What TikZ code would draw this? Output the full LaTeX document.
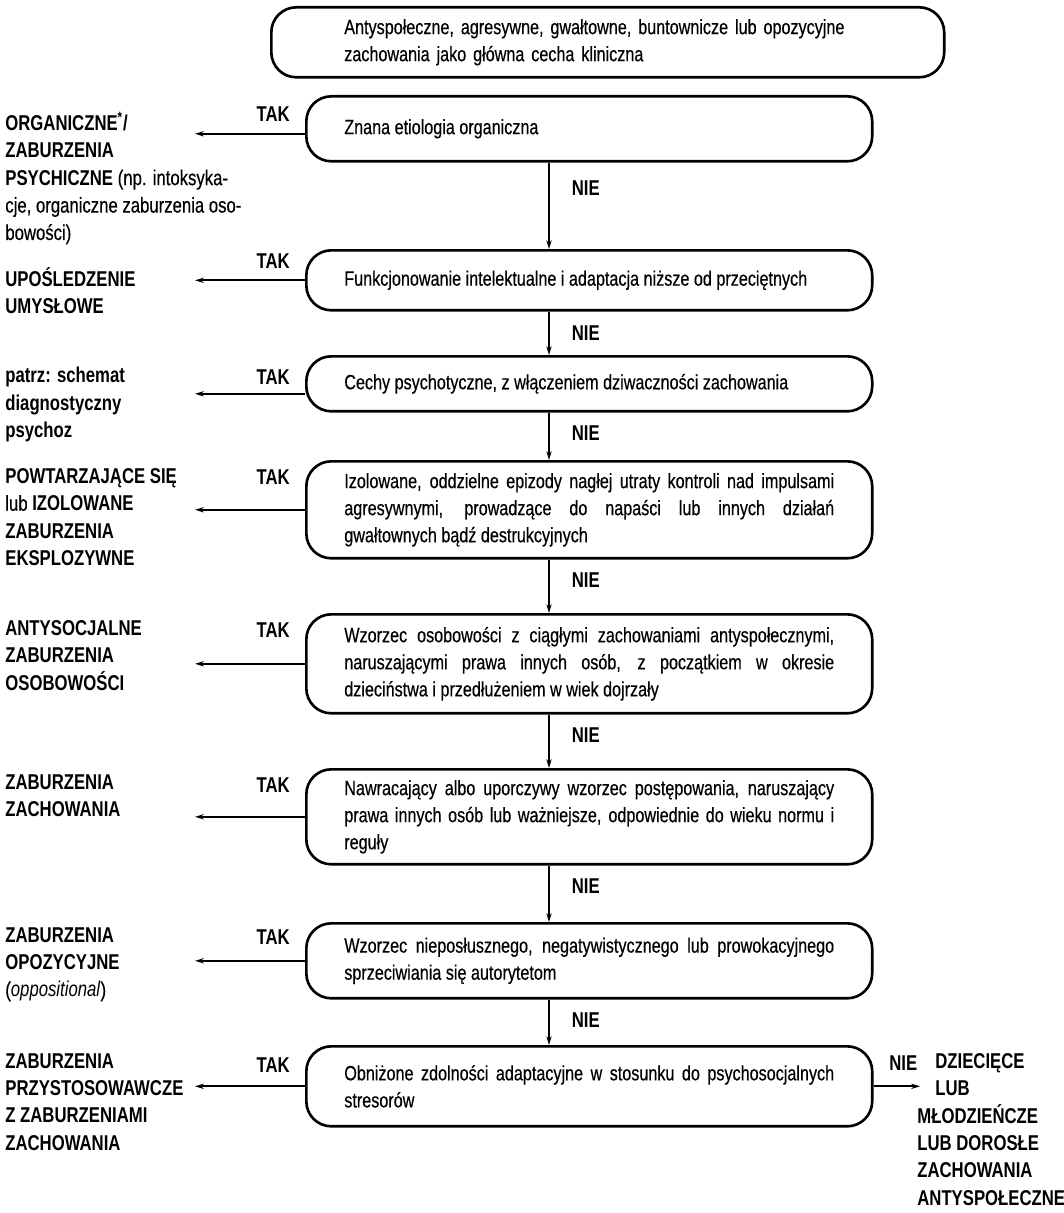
\documentclass[tikz,border=0pt]{standalone}
\usepackage{fontspec}
\setmainfont{Liberation Sans}[FakeStretch=0.78, UprightFeatures={FakeBold=0.4}]
\usetikzlibrary{arrows.meta}

\begin{document}
\begin{tikzpicture}[x=0.02cm, y=-0.02cm]
    \tikzset{question/.style={draw, line width=1.5pt, rounded corners=0.5cm, anchor=north west,
            text width=9.8cm, inner xsep=0.76cm, inner ysep=3pt, align=justify,
            font=\fontsize{11.8}{15.4}\selectfont},
        answer/.style={anchor=north west, align=left, inner sep=0pt,
            font=\fontsize{12.2}{15.6}\selectfont\bfseries},
        tak label/.style={anchor=east, inner sep=0pt, font=\fontsize{12.2}{12}\selectfont\bfseries},
        nie label/.style={anchor=west, inner sep=0pt, xshift=22*0.02cm, font=\fontsize{12.2}{12}\selectfont\bfseries},
        nie lines/.style={-{Stealth[length=5pt,width=3pt]}, line width=0.9pt},
        tak lines/.style={-{Stealth[length=5pt,width=3pt]}, line width=1.3pt}}
    \useasboundingbox (0,0) rectangle (1063,1213);
    % \draw (0,0) grid[step=100] (1063,1213);
    \coordinate (spine) at (549,0);
    \coordinate (left tip) at (195,0);
    \node [question, text width=10.54cm, inner xsep=1.46cm, align=left, minimum height=1.4cm] (q0) at (270,6)
        {Antyspołeczne, agresywne, gwałtowne, buntownicze lub opozycyjne\\zachowania jako główna cecha kliniczna};
    \node [question, minimum height=1.3cm] (q1) at (305,95) {Znana etiologia organiczna};
    \node [question, minimum height=1.2cm] (q2) at (305,249) {Funkcjonowanie intelektualne i adaptacja niższe od przeciętnych};
    \node [question, minimum height=1.1cm] (q3) at (305,355) {Cechy psychotyczne, z włączeniem dziwaczności zachowania};
    \node [question, minimum height=1.94cm] (q4) at (305,460)
        {Izolowane, oddzielne epizody nagłej utraty kontroli nad impulsami\linebreak
         agresywnymi, prowadzące do napaści lub innych działań\linebreak
         gwałtownych bądź destrukcyjnych};
    \node [question, minimum height=1.98cm] (q5) at (305,613)
        {Wzorzec osobowości z ciągłymi zachowaniami antyspołecznymi,\linebreak
         naruszającymi prawa innych osób, z początkiem w okresie\linebreak
         dzieciństwa i przedłużeniem w wiek dojrzały};
    \node [question, minimum height=1.9cm] (q6) at (305,768)
        {Nawracający albo uporczywy wzorzec postępowania, naruszający\linebreak
         prawa innych osób lub ważniejsze, odpowiednie do wieku normu i\linebreak
         reguły};
    \node [question, minimum height=1.5cm] (q7) at (305,922)
        {Wzorzec nieposłusznego, negatywistycznego lub prowokacyjnego\linebreak
         sprzeciwiania się autorytetom};
    \node [question, minimum height=1.6cm] (q8) at (305,1045)
        {Obniżone zdolności adaptacyjne w stosunku do psychosocjalnych\linebreak
         stresorów};

    \node [tak label] (t1) at (290,114) {TAK};
    \node [tak label] (t2) at (290,261) {TAK};
    \node [tak label] (t3) at (290,377) {TAK};
    \node [tak label] (t4) at (290,477) {TAK};
    \node [tak label] (t5) at (290,630) {TAK};
    \node [tak label] (t6) at (290,785) {TAK};
    \node [tak label] (t7) at (290,937) {TAK};
    \node [tak label] (t8) at (290,1065) {TAK};

    \node [answer] (a1) at (5,112) {ORGANICZNE\textsuperscript{*}/\\ZABURZENIA\\
        PSYCHICZNE {\mdseries (np. intoksyka-}\\{\mdseries cje, organiczne zaburzenia oso-}\\{\mdseries bowości)}};
    \node [answer] (a2) at (5,267) {UPOŚLEDZENIE\\UMYSŁOWE};
    \node [answer] (a3) at (5,367) {patrz: schemat\\diagnostyczny\\psychoz};
    \node [answer] (a4) at (5,468) {POWTARZAJĄCE SIĘ\\{\mdseries lub} IZOLOWANE\\ZABURZENIA\\EKSPLOZYWNE};
    \node [answer] (a5) at (5,620) {ANTYSOCJALNE\\ZABURZENIA\\OSOBOWOŚCI};
    \node [answer] (a6) at (5,774) {ZABURZENIA\\ZACHOWANIA};
    \node [answer] (a7) at (5,927) {ZABURZENIA\\OPOZYCYJNE\\{\mdseries(\textit{oppositional})}};
    \node [answer] (a8) at (5,1053) {ZABURZENIA\\PRZYSTOSOWAWCZE\\Z ZABURZENIAMI\\ZACHOWANIA};
    \node [answer] (a9) at (917,1053) {\hspace*{0.36cm}DZIECIĘCE\\\hspace*{0.36cm}LUB\\MŁODZIEŃCZE\\LUB DOROSŁE\\ZACHOWANIA\\ANTYSPOŁECZNE};
    \node [tak label, anchor=west] (n9) at (889,1063) {NIE};
    \coordinate (right tip) at (920,0);

    \draw [nie lines] (q1.south -| spine) -- node[nie label, pos=0.3] (n1) {NIE} (q2.north -| spine);
    \draw [nie lines] (q2.south -| spine) -- node[nie label, pos=0.49] (n2) {NIE} (q3.north -| spine);
    \draw [nie lines] (q3.south -| spine) -- node[nie label, pos=0.44] (n3) {NIE} (q4.north -| spine);
    \draw [nie lines] (q4.south -| spine) -- node[nie label, pos=0.39] (n4) {NIE} (q5.north -| spine);
    \draw [nie lines] (q5.south -| spine) -- node[nie label, pos=0.39] (n5) {NIE} (q6.north -| spine);
    \draw [nie lines] (q6.south -| spine) -- node[nie label, pos=0.37] (n6) {NIE} (q7.north -| spine);
    \draw [nie lines] (q7.south -| spine) -- node[nie label, pos=0.46] (n7) {NIE} (q8.north -| spine);

    \draw [tak lines] ([yshift=-0.1cm]q1.west) -- ([yshift=-0.1cm]q1.west -| left tip);
    \draw [tak lines] (q2.west) -- (q2.west -| left tip);
    \draw [tak lines] ([yshift=-0.2cm]q3.west) -- ([yshift=-0.2cm]q3.west -| left tip);
    \draw [tak lines] (q4.west) -- (q4.west -| left tip);
    \draw [tak lines] (q5.west) -- (q5.west -| left tip);
    \draw [tak lines] (q6.west) -- (q6.west -| left tip);
    \draw [tak lines] (q7.west) -- (q7.west -| left tip);
    \draw [tak lines] (q8.west) -- (q8.west -| left tip);
    \draw [tak lines] (q8.east) -- (q8.east -| right tip);
\end{tikzpicture}
\end{document}
